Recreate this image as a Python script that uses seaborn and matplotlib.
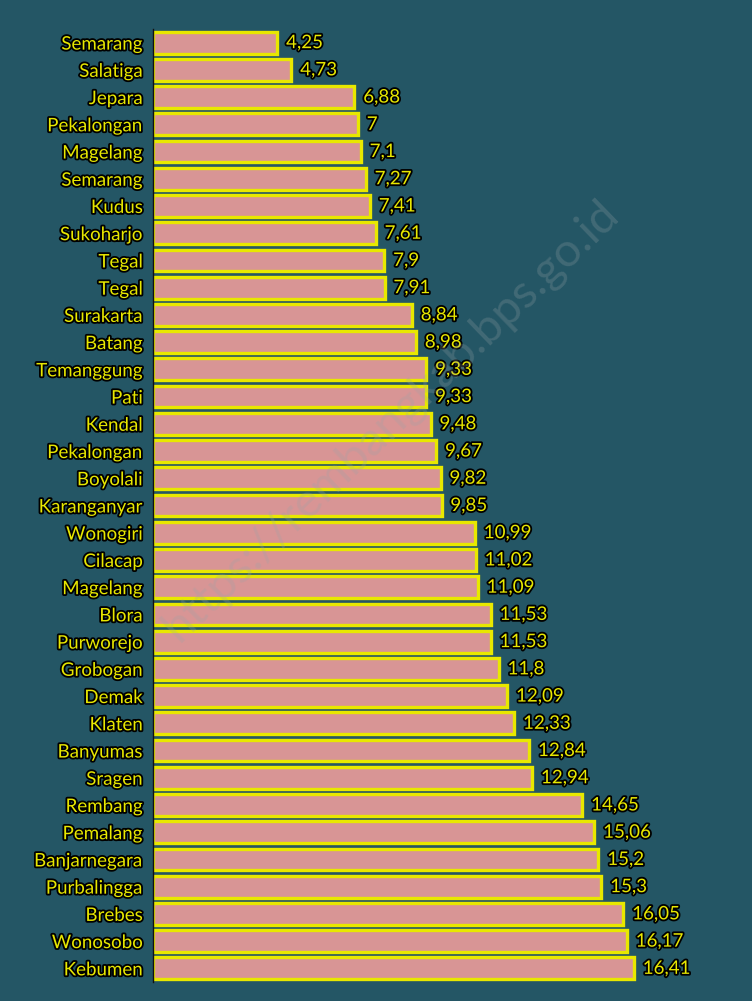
import matplotlib.pyplot as plt
import matplotlib.patheffects as pe
import pandas as pd
import seaborn as sns

regions = [
    "Semarang", "Salatiga", "Jepara", "Pekalongan", "Magelang", "Semarang",
    "Kudus", "Sukoharjo", "Tegal", "Tegal", "Surakarta", "Batang",
    "Temanggung", "Pati", "Kendal", "Pekalongan", "Boyolali", "Karanganyar",
    "Wonogiri", "Cilacap", "Magelang", "Blora", "Purworejo", "Grobogan",
    "Demak", "Klaten", "Banyumas", "Sragen", "Rembang", "Pemalang",
    "Banjarnegara", "Purbalingga", "Brebes", "Wonosobo", "Kebumen",
]
values = [
    4.25, 4.73, 6.88, 7, 7.1, 7.27, 7.41, 7.61, 7.9, 7.91, 8.84, 8.98,
    9.33, 9.33, 9.48, 9.67, 9.82, 9.85, 10.99, 11.02, 11.09, 11.53, 11.53,
    11.8, 12.09, 12.33, 12.84, 12.94, 14.65, 15.06, 15.2, 15.3, 16.05,
    16.17, 16.41,
]

bg = "#245665"
pink = "#d89595"
yellow = "#e8e800"

df = pd.DataFrame({"row": range(len(values)), "value": values})

sns.set_style("white")
plt.rcParams["font.family"] = ["Lato", "DejaVu Sans"]

fig = plt.figure(figsize=(7.52, 10.01), dpi=100, facecolor=bg)
ax = fig.add_axes([0.203, 0.019, 0.78, 0.952])
ax.set_facecolor(bg)

sns.barplot(data=df, x="value", y="row", orient="h", color=pink,
            edgecolor=yellow, linewidth=2.4, width=0.8, saturation=1, ax=ax)

outline = [pe.withStroke(linewidth=2.6, foreground="black")]
for i, v in enumerate(values):
    ax.text(v + 0.3, i, f"{v:g}".replace(".", ","), va="center", ha="left",
            color=yellow, fontsize=13.5, path_effects=outline)

ax.set_yticks(range(len(regions)))
ax.set_yticklabels(regions, fontsize=13.5, color=yellow)
for lbl in ax.get_yticklabels():
    lbl.set_path_effects(outline)
ax.tick_params(axis="y", length=0, pad=7)
ax.set_xticks([])
ax.set_xlim(0, 20)
ax.set_ylim(len(values) - 0.5, -0.5)
ax.set_xlabel("")
ax.set_ylabel("")
for side in ["top", "right", "bottom"]:
    ax.spines[side].set_visible(False)
ax.spines["left"].set_color("#111111")
ax.spines["left"].set_linewidth(1)

fig.text(0.52, 0.58, "https://rembangkab.bps.go.id", rotation=44,
         ha="center", va="center", fontsize=34, color="#9aa5a8",
         alpha=0.25)

fig.savefig("out.png", dpi=100, facecolor=bg)
